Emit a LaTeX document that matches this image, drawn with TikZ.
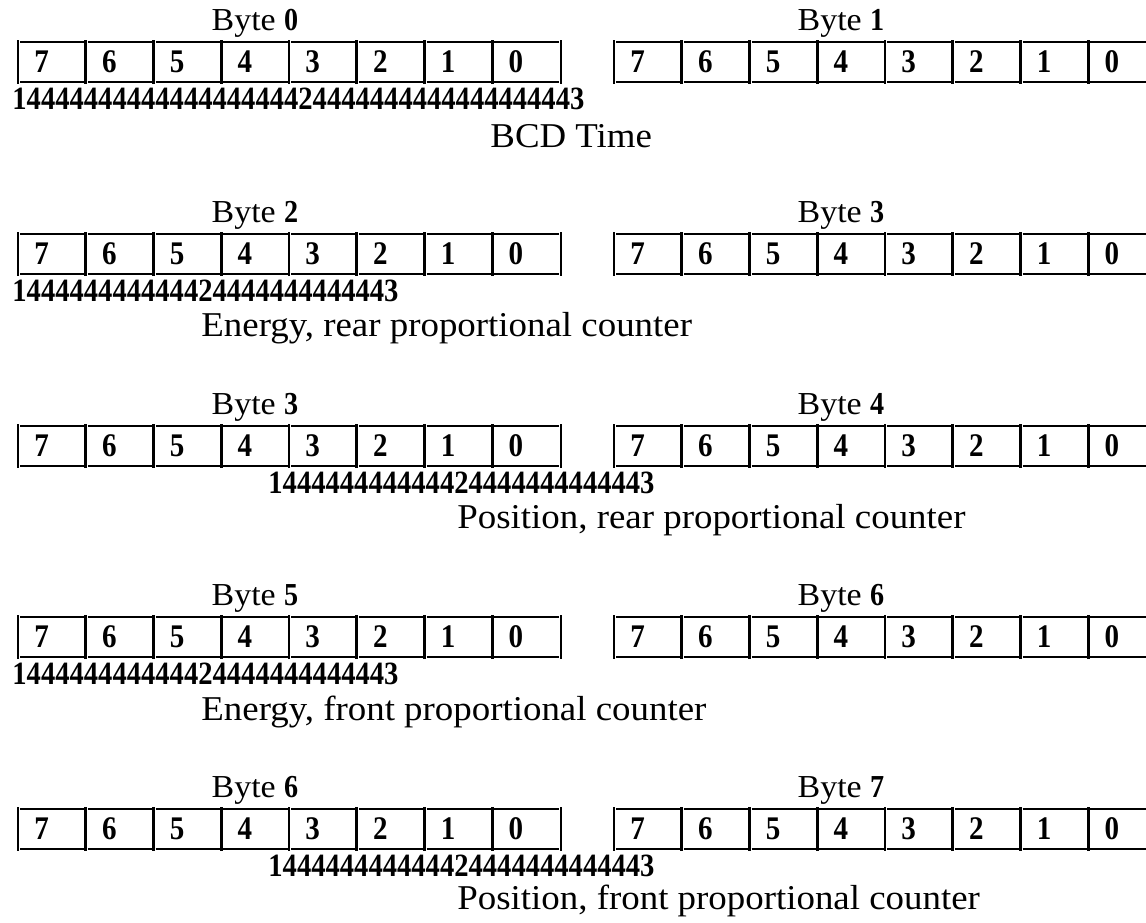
\documentclass[tikz,border=0pt]{standalone}
\usepackage{fontspec}
\setmainfont{Liberation Serif}
\newfontfamily\descfont[FakeStretch=1.06]{Liberation Serif}
\newfontfamily\digfont[FakeStretch=0.88]{Liberation Serif}
\usetikzlibrary{positioning}
\newcommand{\bnum}[1]{{\digfont\bfseries#1}}
\newcommand{\bytecells}[3]{%
  \foreach \b in {7,...,0}{
    \node[cell] (#3-\b) at ({#1+(7-\b)*67.75},#2) {\b};
    \draw[rule] ([xshift=1pt]#3-\b.north west) -- ([xshift=-0.8pt]#3-\b.north east);
    \draw[rule] ([xshift=1pt]#3-\b.south west) -- ([xshift=-0.8pt]#3-\b.south east);
    \draw[rule] ([yshift=0.9pt]#3-\b.north west) -- ([yshift=-0.9pt]#3-\b.south west);
  }
  \draw[rule] ([yshift=0.9pt]#3-0.north east) -- ([yshift=-0.9pt]#3-0.south east);
}
\tikzset{
  cell/.style={anchor=north west,minimum height=19.5pt,
    inner ysep=0pt,inner xsep=8pt,text width=17.875pt,align=left,
    font=\digfont\bfseries\fontsize{16.5}{17}\selectfont},
  rule/.style={line width=1.3pt},
  bytelabel/.style={anchor=base,inner sep=0pt,font=\descfont\fontsize{16}{18}\selectfont},
  bracetext/.style={anchor=base west,inner sep=0pt,font=\digfont\bfseries\fontsize{16.25}{18}\selectfont},
  desc/.style={anchor=base west,inner sep=0pt,font=\descfont\fontsize{17.4}{20}\selectfont},
}
\begin{document}
\begin{tikzpicture}[x=0.5pt,y=-0.5pt]
  \useasboundingbox (0,0) rectangle (1146,922);
  \clip (0,0) rectangle (1146,922);
  % BCD time
  \bytecells{18}{42}{b0}
  \bytecells{614}{42}{b1}
  \node[bytelabel] (lb0) at (255,30) {Byte \bnum{0}};
  \node[bytelabel] (lb1) at (841,30) {Byte \bnum{1}};
  \node[bracetext] (br1) at (12,109) {1444444444444444444424444444444444444443};
  \node[desc] (d1) at (490,147) {BCD Time};
  % energy, rear
  \bytecells{18}{234}{b2}
  \bytecells{614}{234}{b3}
  \node[bytelabel] (lb2) at (255,222) {Byte \bnum{2}};
  \node[bytelabel] (lb3) at (841,222) {Byte \bnum{3}};
  \node[bracetext] (br2) at (12,301) {144444444444424444444444443};
  \node[desc] (d2) at (201,336) {Energy, rear proportional counter};
  % position, rear
  \bytecells{18}{426}{b3a}
  \bytecells{614}{426}{b4}
  \node[bytelabel] (lb3a) at (255,414) {Byte \bnum{3}};
  \node[bytelabel] (lb4) at (841,414) {Byte \bnum{4}};
  \node[bracetext] (br3) at (268,493) {144444444444424444444444443};
  \node[desc] (d3) at (457,528) {Position, rear proportional counter};
  % energy, front
  \bytecells{18}{617}{b5}
  \bytecells{614}{617}{b6}
  \node[bytelabel] (lb5) at (255,605) {Byte \bnum{5}};
  \node[bytelabel] (lb6) at (841,605) {Byte \bnum{6}};
  \node[bracetext] (br4) at (12,684) {144444444444424444444444443};
  \node[desc] (d4) at (201,720) {Energy, front proportional counter};
  % position, front
  \bytecells{18}{809}{b6a}
  \bytecells{614}{809}{b7}
  \node[bytelabel] (lb6a) at (255,797) {Byte \bnum{6}};
  \node[bytelabel] (lb7) at (841,797) {Byte \bnum{7}};
  \node[bracetext] (br5) at (268,876) {144444444444424444444444443};
  \node[desc] (d5) at (457,909) {Position, front proportional counter};
\end{tikzpicture}
\end{document}
